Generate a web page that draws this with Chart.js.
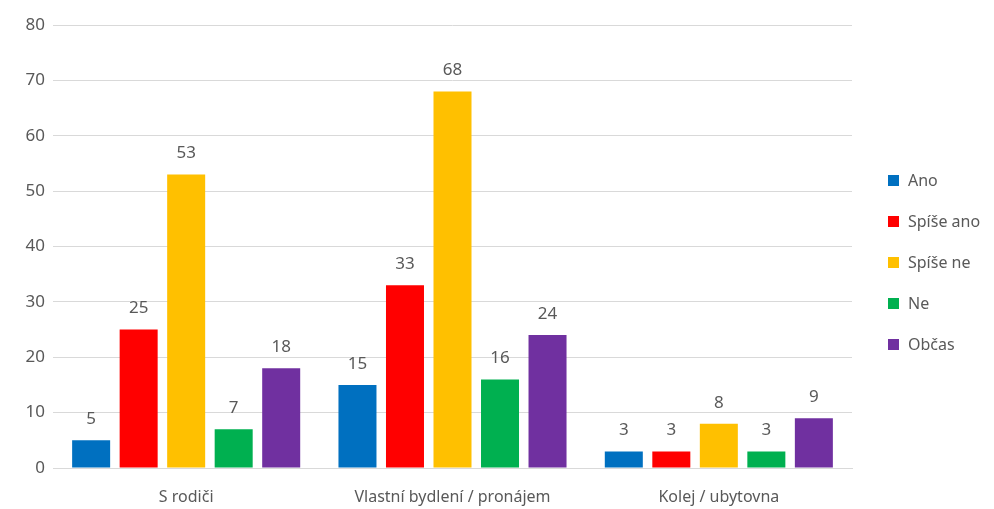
<!DOCTYPE html>
<html>
<head>
<meta charset="utf-8">
<script src="https://cdn.jsdelivr.net/npm/chart.js@4.4.0/dist/chart.umd.min.js"></script>
<style>
  html, body { margin: 0; padding: 0; background: #fff; }
  #wrap { position: relative; width: 994px; height: 509px; }
  #legend { position: absolute; left: 888px; top: 169px; font-family: "Noto Sans", sans-serif; font-size: 16px; color: #595959; }
  #legend div { height: 41px; line-height: 22px; white-space: nowrap; }
  #legend span { display: inline-block; width: 11px; height: 11px; margin-right: 9px; vertical-align: 0px; }
</style>
</head>
<body>
<div id="wrap">
  <canvas id="chart" width="994" height="509"></canvas>
  <div id="legend"></div>
</div>
<script>
const categories = ['S rodiči', 'Vlastní bydlení / pronájem', 'Kolej / ubytovna'];
const seriesNames = ['Ano', 'Spíše ano', 'Spíše ne', 'Ne', 'Občas'];
const seriesColors = ['#0070C0', '#FF0000', '#FFC000', '#00B050', '#7030A0'];
const ano = [5, 15, 3];
const spiseAno = [25, 33, 3];
const spiseNe = [53, 68, 8];
const ne = [7, 16, 3];
const obcas = [18, 24, 9];
const yTicks = [0, 10, 20, 30, 40, 50, 60, 70, 80];

const values = [ano, spiseAno, spiseNe, ne, obcas];
const textColor = '#595959';
const fontFamily = '"Noto Sans", sans-serif';

// numbers above each bar
const barLabels = {
  id: 'barLabels',
  afterDatasetsDraw(chart) {
    const ctx = chart.ctx;
    ctx.save();
    ctx.font = '17px ' + fontFamily;
    ctx.fillStyle = textColor;
    ctx.textAlign = 'center';
    ctx.textBaseline = 'middle';
    chart.data.datasets.forEach((ds, i) => {
      chart.getDatasetMeta(i).data.forEach((bar, j) => {
        ctx.fillText(ds.data[j], bar.x, bar.y - 21);
      });
    });
    ctx.restore();
  }
};

new Chart(document.getElementById('chart'), {
  type: 'bar',
  data: {
    labels: categories,
    datasets: seriesNames.map((name, i) => ({
      label: name,
      data: values[i],
      backgroundColor: seriesColors[i],
      barPercentage: 0.8,
      categoryPercentage: 0.892,
    })),
  },
  options: {
    responsive: false,
    animation: false,
    layout: { padding: { top: 25, right: 142, left: 0, bottom: 0 } },
    plugins: {
      legend: { display: false },
      tooltip: { enabled: false },
    },
    scales: {
      x: {
        grid: { display: false },
        border: { color: '#d9d9d9' },
        ticks: { color: textColor, font: { family: fontFamily, size: 16 }, padding: 12 },
        afterFit: (scale) => { scale.height = 41; },
      },
      y: {
        min: 0,
        max: 80,
        afterBuildTicks: (scale) => { scale.ticks = yTicks.map((v) => ({ value: v })); },
        grid: { color: '#d9d9d9', drawTicks: false },
        border: { display: false },
        ticks: { color: textColor, font: { family: fontFamily, size: 17 }, padding: 8 },
        afterFit: (scale) => { scale.width = 53; },
      },
    },
  },
  plugins: [barLabels],
});

const legend = document.getElementById('legend');
seriesNames.forEach((name, i) => {
  const row = document.createElement('div');
  row.innerHTML = `<span style="background:${seriesColors[i]}"></span>${name}`;
  legend.appendChild(row);
});
</script>
</body>
</html>
